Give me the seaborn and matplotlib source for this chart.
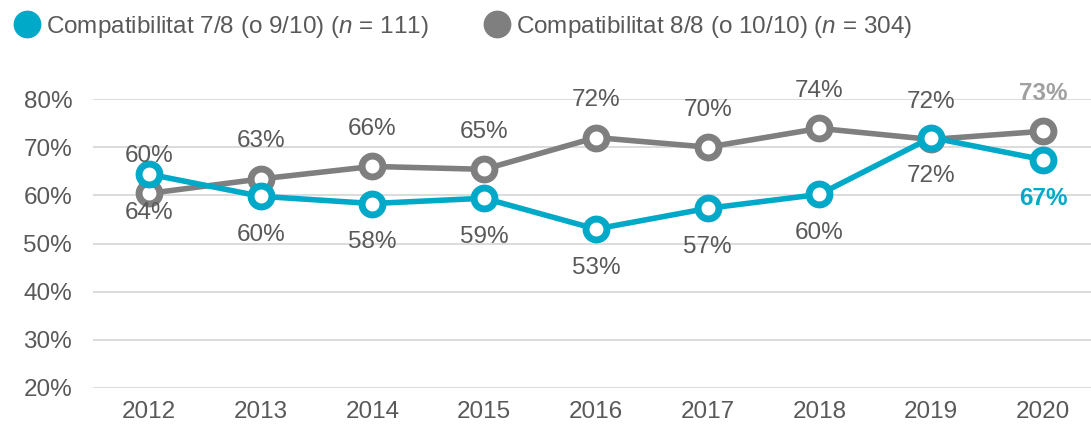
import matplotlib
matplotlib.use("Agg")
import matplotlib.pyplot as plt
from matplotlib.lines import Line2D
import seaborn as sns
import pandas as pd

years = [2012, 2013, 2014, 2015, 2016, 2017, 2018, 2019, 2020]
compat_78 = [64.4, 59.8, 58.3, 59.4, 53.0, 57.3, 60.2, 72.0, 67.4]
compat_88 = [60.4, 63.4, 66.0, 65.4, 72.0, 70.0, 73.9, 71.6, 73.3]
series_names = ["Compatibilitat 7/8 (o 9/10) ($n$ = 111)",
                "Compatibilitat 8/8 (o 10/10) ($n$ = 304)"]
y_ticks = [20, 30, 40, 50, 60, 70, 80]

TEAL = "#00A9C7"
GREY = "#7F7F7F"
TEXT = "#595959"
FS = 17.5

sns.set_theme(style="white")
plt.rcParams["font.family"] = ["Liberation Sans", "DejaVu Sans"]
plt.rcParams["mathtext.fontset"] = "custom"
plt.rcParams["mathtext.it"] = "Liberation Sans:italic"
plt.rcParams["mathtext.rm"] = "Liberation Sans"

df = pd.DataFrame({
    "year": years * 2,
    "value": compat_88 + compat_78,
    "serie": [series_names[1]] * len(years) + [series_names[0]] * len(years),
})

fig = plt.figure(figsize=(10.91, 4.29), dpi=100)
ax = fig.add_axes([93 / 1091, 1 - 388 / 429, (1091 - 93) / 1091, (388 - 99) / 429])

sns.lineplot(data=df, x="year", y="value", hue="serie",
             hue_order=[series_names[1], series_names[0]],
             palette=[GREY, TEAL], linewidth=4.0, marker="o",
             markersize=15, markeredgewidth=5, markerfacecolor="white",
             legend=False, ax=ax, clip_on=False)

for ln, col in zip(ax.get_lines(), [GREY, TEAL]):
    ln.set_markeredgecolor(col)
    ln.set_clip_on(False)

ax.set_xlim(2011.5, 2020.43)
ax.set_ylim(20, 80)
ax.set_yticks(y_ticks)
ax.set_yticklabels([f"{v}%" for v in y_ticks])
ax.set_xticks(years)
ax.set_xticklabels([str(y) for y in years])
ax.set_xlabel("")
ax.set_ylabel("")
ax.grid(axis="y", color="#D9D9D9", linewidth=1.3)
ax.set_axisbelow(True)
for s in ax.spines.values():
    s.set_visible(False)
ax.tick_params(axis="both", length=0, labelsize=FS, labelcolor=TEXT)
ax.tick_params(axis="y", pad=15)
ax.tick_params(axis="x", pad=9)

# value labels: grey series above, teal series below
last = len(years) - 1
for i, (yr, v) in enumerate(zip(years, compat_88)):
    bold = i == last
    ax.annotate(f"{round(v)}%", (yr, v), xytext=(0, 27), textcoords="offset points",
                ha="center", va="center", fontsize=FS,
                color="#A0A0A0" if bold else TEXT,
                fontweight="bold" if bold else "normal", annotation_clip=False)
for i, (yr, v) in enumerate(zip(years, compat_78)):
    bold = i == last
    ax.annotate(f"{round(v)}%", (yr, v), xytext=(0, -28), textcoords="offset points",
                ha="center", va="center", fontsize=FS,
                color=TEAL if bold else TEXT,
                fontweight="bold" if bold else "normal", annotation_clip=False)

handles = [Line2D([], [], linestyle="none", marker="o", markersize=19,
                  markerfacecolor=c, markeredgecolor=c) for c in (TEAL, GREY)]
fig.legend(handles, series_names, loc="upper left", bbox_to_anchor=(-0.0065, 1.019),
           ncol=2, frameon=False, fontsize=FS, labelcolor=TEXT,
           handlelength=1.0, handletextpad=0.3, columnspacing=2.3)

fig.savefig("out.png", dpi=100)
